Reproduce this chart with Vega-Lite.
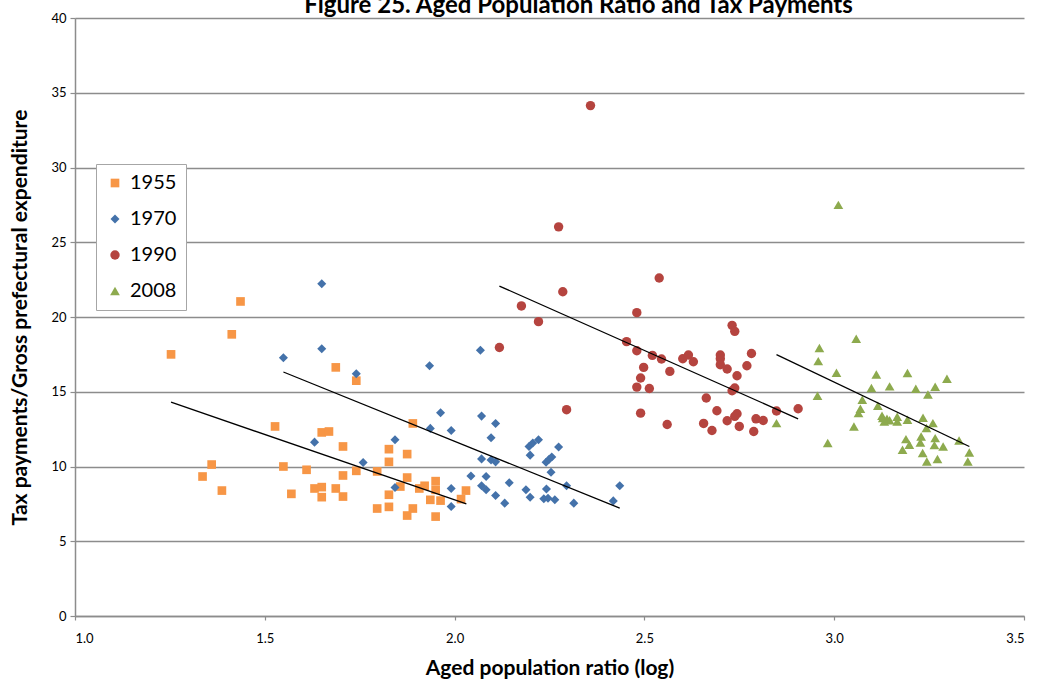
{
  "$schema": "https://vega.github.io/schema/vega-lite/v6.json",
  "width": 949,
  "height": 598,
  "autosize": {"type": "none"},
  "padding": {"left": 75, "top": 18, "right": 15, "bottom": 68},
  "background": "#ffffff",
  "view": {"stroke": null},
  "title": {
    "text": "Figure 25. Aged Population Ratio and Tax Payments",
    "font": "Lato",
    "fontSize": 24,
    "fontWeight": "bold",
    "color": "#000000",
    "anchor": "middle",
    "dx": 29,
    "offset": -6
  },
  "datasets": {
    "points": [
      {"year": "1955", "ratio": 1.253, "tax": 17.5},
      {"year": "1955", "ratio": 1.413, "tax": 18.84},
      {"year": "1955", "ratio": 1.436, "tax": 21.04},
      {"year": "1955", "ratio": 1.527, "tax": 12.68},
      {"year": "1955", "ratio": 1.36, "tax": 10.13},
      {"year": "1955", "ratio": 1.336, "tax": 9.33},
      {"year": "1955", "ratio": 1.387, "tax": 8.39},
      {"year": "1955", "ratio": 1.549, "tax": 10.0},
      {"year": "1955", "ratio": 1.61, "tax": 9.78},
      {"year": "1955", "ratio": 1.57, "tax": 8.17},
      {"year": "1955", "ratio": 1.631, "tax": 8.53},
      {"year": "1955", "ratio": 1.65, "tax": 8.62},
      {"year": "1955", "ratio": 1.65, "tax": 7.95},
      {"year": "1955", "ratio": 1.687, "tax": 8.53},
      {"year": "1955", "ratio": 1.687, "tax": 16.63},
      {"year": "1955", "ratio": 1.65, "tax": 12.28},
      {"year": "1955", "ratio": 1.669, "tax": 12.34},
      {"year": "1955", "ratio": 1.741, "tax": 15.74},
      {"year": "1955", "ratio": 1.706, "tax": 11.34},
      {"year": "1955", "ratio": 1.741, "tax": 9.71},
      {"year": "1955", "ratio": 1.706, "tax": 9.4},
      {"year": "1955", "ratio": 1.796, "tax": 9.67},
      {"year": "1955", "ratio": 1.827, "tax": 11.16},
      {"year": "1955", "ratio": 1.827, "tax": 10.31},
      {"year": "1955", "ratio": 1.875, "tax": 10.83},
      {"year": "1955", "ratio": 1.89, "tax": 12.88},
      {"year": "1955", "ratio": 1.706, "tax": 7.99},
      {"year": "1955", "ratio": 1.796, "tax": 7.19},
      {"year": "1955", "ratio": 1.827, "tax": 7.3},
      {"year": "1955", "ratio": 1.827, "tax": 8.11},
      {"year": "1955", "ratio": 1.857, "tax": 8.66},
      {"year": "1955", "ratio": 1.875, "tax": 9.26},
      {"year": "1955", "ratio": 1.89, "tax": 7.19},
      {"year": "1955", "ratio": 1.875, "tax": 6.72},
      {"year": "1955", "ratio": 1.907, "tax": 8.53},
      {"year": "1955", "ratio": 1.921, "tax": 8.71},
      {"year": "1955", "ratio": 1.95, "tax": 9.02},
      {"year": "1955", "ratio": 1.95, "tax": 8.44},
      {"year": "1955", "ratio": 1.936, "tax": 7.77},
      {"year": "1955", "ratio": 1.963, "tax": 7.72},
      {"year": "1955", "ratio": 1.95, "tax": 6.65},
      {"year": "1955", "ratio": 2.017, "tax": 7.82},
      {"year": "1955", "ratio": 2.03, "tax": 8.39},
      {"year": "1970", "ratio": 1.549, "tax": 17.28},
      {"year": "1970", "ratio": 1.65, "tax": 17.88},
      {"year": "1970", "ratio": 1.65, "tax": 22.23},
      {"year": "1970", "ratio": 1.631, "tax": 11.63},
      {"year": "1970", "ratio": 1.741, "tax": 16.2},
      {"year": "1970", "ratio": 1.759, "tax": 10.27},
      {"year": "1970", "ratio": 1.843, "tax": 11.79},
      {"year": "1970", "ratio": 1.843, "tax": 8.6},
      {"year": "1970", "ratio": 1.934, "tax": 16.74},
      {"year": "1970", "ratio": 1.963, "tax": 13.6},
      {"year": "1970", "ratio": 1.936, "tax": 12.55},
      {"year": "1970", "ratio": 1.991, "tax": 12.41},
      {"year": "1970", "ratio": 2.068, "tax": 17.78},
      {"year": "1970", "ratio": 2.071, "tax": 13.37},
      {"year": "1970", "ratio": 2.108, "tax": 12.88},
      {"year": "1970", "ratio": 2.096, "tax": 11.92},
      {"year": "1970", "ratio": 2.071, "tax": 10.51},
      {"year": "1970", "ratio": 2.096, "tax": 10.43},
      {"year": "1970", "ratio": 2.108, "tax": 10.31},
      {"year": "1970", "ratio": 2.043, "tax": 9.36},
      {"year": "1970", "ratio": 2.083, "tax": 9.33},
      {"year": "1970", "ratio": 1.991, "tax": 8.53},
      {"year": "1970", "ratio": 1.991, "tax": 7.32},
      {"year": "1970", "ratio": 2.071, "tax": 8.71},
      {"year": "1970", "ratio": 2.083, "tax": 8.44},
      {"year": "1970", "ratio": 2.108, "tax": 8.06},
      {"year": "1970", "ratio": 2.132, "tax": 7.55},
      {"year": "1970", "ratio": 2.144, "tax": 8.91},
      {"year": "1970", "ratio": 2.188, "tax": 8.44},
      {"year": "1970", "ratio": 2.199, "tax": 7.95},
      {"year": "1970", "ratio": 2.199, "tax": 10.76},
      {"year": "1970", "ratio": 2.196, "tax": 11.34},
      {"year": "1970", "ratio": 2.206, "tax": 11.57},
      {"year": "1970", "ratio": 2.221, "tax": 11.79},
      {"year": "1970", "ratio": 2.241, "tax": 10.29},
      {"year": "1970", "ratio": 2.249, "tax": 10.49},
      {"year": "1970", "ratio": 2.256, "tax": 10.63},
      {"year": "1970", "ratio": 2.254, "tax": 9.62},
      {"year": "1970", "ratio": 2.274, "tax": 11.3},
      {"year": "1970", "ratio": 2.242, "tax": 8.49},
      {"year": "1970", "ratio": 2.235, "tax": 7.84},
      {"year": "1970", "ratio": 2.246, "tax": 7.88},
      {"year": "1970", "ratio": 2.264, "tax": 7.77},
      {"year": "1970", "ratio": 2.295, "tax": 8.71},
      {"year": "1970", "ratio": 2.314, "tax": 7.55},
      {"year": "1970", "ratio": 2.418, "tax": 7.7},
      {"year": "1970", "ratio": 2.435, "tax": 8.71},
      {"year": "1990", "ratio": 2.358, "tax": 34.14},
      {"year": "1990", "ratio": 2.274, "tax": 26.03},
      {"year": "1990", "ratio": 2.539, "tax": 22.61},
      {"year": "1990", "ratio": 2.285, "tax": 21.69},
      {"year": "1990", "ratio": 2.176, "tax": 20.74},
      {"year": "1990", "ratio": 2.221, "tax": 19.69},
      {"year": "1990", "ratio": 2.118, "tax": 17.96},
      {"year": "1990", "ratio": 2.295, "tax": 13.8},
      {"year": "1990", "ratio": 2.48, "tax": 20.29},
      {"year": "1990", "ratio": 2.453, "tax": 18.35},
      {"year": "1990", "ratio": 2.48, "tax": 17.74},
      {"year": "1990", "ratio": 2.521, "tax": 17.43},
      {"year": "1990", "ratio": 2.545, "tax": 17.19},
      {"year": "1990", "ratio": 2.498, "tax": 16.63},
      {"year": "1990", "ratio": 2.567, "tax": 16.36},
      {"year": "1990", "ratio": 2.49, "tax": 15.92},
      {"year": "1990", "ratio": 2.48, "tax": 15.31},
      {"year": "1990", "ratio": 2.513, "tax": 15.22},
      {"year": "1990", "ratio": 2.49, "tax": 13.57},
      {"year": "1990", "ratio": 2.56, "tax": 12.81},
      {"year": "1990", "ratio": 2.601, "tax": 17.21},
      {"year": "1990", "ratio": 2.616, "tax": 17.46},
      {"year": "1990", "ratio": 2.629, "tax": 17.01},
      {"year": "1990", "ratio": 2.7, "tax": 17.46},
      {"year": "1990", "ratio": 2.7, "tax": 17.21},
      {"year": "1990", "ratio": 2.7, "tax": 16.81},
      {"year": "1990", "ratio": 2.718, "tax": 16.52},
      {"year": "1990", "ratio": 2.731, "tax": 19.44},
      {"year": "1990", "ratio": 2.738, "tax": 19.04},
      {"year": "1990", "ratio": 2.744, "tax": 16.07},
      {"year": "1990", "ratio": 2.77, "tax": 16.74},
      {"year": "1990", "ratio": 2.782, "tax": 17.56},
      {"year": "1990", "ratio": 2.738, "tax": 15.25},
      {"year": "1990", "ratio": 2.731, "tax": 15.07},
      {"year": "1990", "ratio": 2.663, "tax": 14.58},
      {"year": "1990", "ratio": 2.691, "tax": 13.73},
      {"year": "1990", "ratio": 2.744, "tax": 13.53},
      {"year": "1990", "ratio": 2.738, "tax": 13.35},
      {"year": "1990", "ratio": 2.718, "tax": 13.06},
      {"year": "1990", "ratio": 2.656, "tax": 12.88},
      {"year": "1990", "ratio": 2.678, "tax": 12.41},
      {"year": "1990", "ratio": 2.75, "tax": 12.68},
      {"year": "1990", "ratio": 2.788, "tax": 12.34},
      {"year": "1990", "ratio": 2.794, "tax": 13.19},
      {"year": "1990", "ratio": 2.813, "tax": 13.08},
      {"year": "1990", "ratio": 2.848, "tax": 13.71},
      {"year": "1990", "ratio": 2.905, "tax": 13.86},
      {"year": "2008", "ratio": 3.011, "tax": 27.5},
      {"year": "2008", "ratio": 3.058, "tax": 18.55},
      {"year": "2008", "ratio": 2.961, "tax": 17.93},
      {"year": "2008", "ratio": 2.958, "tax": 17.05},
      {"year": "2008", "ratio": 3.006, "tax": 16.27},
      {"year": "2008", "ratio": 3.111, "tax": 16.16},
      {"year": "2008", "ratio": 3.193, "tax": 16.25},
      {"year": "2008", "ratio": 3.297, "tax": 15.87},
      {"year": "2008", "ratio": 3.098, "tax": 15.25},
      {"year": "2008", "ratio": 3.146, "tax": 15.36},
      {"year": "2008", "ratio": 3.215, "tax": 15.2},
      {"year": "2008", "ratio": 3.266, "tax": 15.33},
      {"year": "2008", "ratio": 3.247, "tax": 14.82},
      {"year": "2008", "ratio": 2.956, "tax": 14.73},
      {"year": "2008", "ratio": 3.074, "tax": 14.46},
      {"year": "2008", "ratio": 3.069, "tax": 13.86},
      {"year": "2008", "ratio": 3.064, "tax": 13.57},
      {"year": "2008", "ratio": 3.115, "tax": 14.06},
      {"year": "2008", "ratio": 3.126, "tax": 13.4},
      {"year": "2008", "ratio": 3.139, "tax": 13.2},
      {"year": "2008", "ratio": 3.146, "tax": 13.1},
      {"year": "2008", "ratio": 3.132, "tax": 13.0},
      {"year": "2008", "ratio": 3.128, "tax": 13.25},
      {"year": "2008", "ratio": 3.166, "tax": 13.33},
      {"year": "2008", "ratio": 3.166, "tax": 13.01},
      {"year": "2008", "ratio": 3.193, "tax": 13.13},
      {"year": "2008", "ratio": 3.234, "tax": 13.26},
      {"year": "2008", "ratio": 3.26, "tax": 12.9},
      {"year": "2008", "ratio": 3.243, "tax": 12.57},
      {"year": "2008", "ratio": 3.229, "tax": 12.01},
      {"year": "2008", "ratio": 3.227, "tax": 11.61},
      {"year": "2008", "ratio": 3.266, "tax": 11.9},
      {"year": "2008", "ratio": 3.264, "tax": 11.43},
      {"year": "2008", "ratio": 3.287, "tax": 11.34},
      {"year": "2008", "ratio": 3.189, "tax": 11.83},
      {"year": "2008", "ratio": 3.198, "tax": 11.45},
      {"year": "2008", "ratio": 3.18, "tax": 11.12},
      {"year": "2008", "ratio": 3.233, "tax": 10.9},
      {"year": "2008", "ratio": 3.244, "tax": 10.34},
      {"year": "2008", "ratio": 3.272, "tax": 10.5},
      {"year": "2008", "ratio": 3.329, "tax": 11.74},
      {"year": "2008", "ratio": 3.356, "tax": 10.94},
      {"year": "2008", "ratio": 3.352, "tax": 10.34},
      {"year": "2008", "ratio": 3.052, "tax": 12.68},
      {"year": "2008", "ratio": 2.983, "tax": 11.57},
      {"year": "2008", "ratio": 2.848, "tax": 12.9}
    ],
    "trend": [
      {"group": "1955", "ratio": 1.253, "tax": 14.3},
      {"group": "1955", "ratio": 2.031, "tax": 7.5},
      {"group": "1970", "ratio": 1.549, "tax": 16.32},
      {"group": "1970", "ratio": 2.435, "tax": 7.22},
      {"group": "1990", "ratio": 2.118, "tax": 22.07},
      {"group": "1990", "ratio": 2.905, "tax": 13.19},
      {"group": "2008", "ratio": 2.848, "tax": 17.48},
      {"group": "2008", "ratio": 3.356, "tax": 11.34}
    ]
  },
  "layer": [
    {
      "data": {"name": "points"},
      "mark": {"type": "point", "filled": true, "opacity": 1},
      "encoding": {
        "x": {
          "field": "ratio",
          "type": "quantitative",
          "scale": {"domain": [1, 3.5], "nice": false, "zero": false},
          "axis": {
            "title": "Aged population ratio (log)",
            "values": [1, 1.5, 2, 2.5, 3, 3.5],
            "format": ".1f",
            "grid": false,
            "tickSize": 4,
            "labelPadding": 12,
            "titlePadding": 12,
            "titleFontSize": 21
          }
        },
        "y": {
          "field": "tax",
          "type": "quantitative",
          "scale": {"domain": [0, 40], "nice": false},
          "axis": {
            "title": "Tax payments/Gross prefectural expenditure",
            "values": [0, 5, 10, 15, 20, 25, 30, 35, 40],
            "grid": true,
            "tickSize": 5,
            "titlePadding": 20,
            "titleFontSize": 21
          }
        },
        "size": {
          "field": "year",
          "type": "nominal",
          "scale": {
            "domain": ["1955", "1970", "1990", "2008"],
            "range": [75, 95, 100, 85]
          },
          "legend": null
        },
        "color": {
          "field": "year",
          "type": "nominal",
          "scale": {
            "domain": ["1955", "1970", "1990", "2008"],
            "range": ["#F79646", "#4472AA", "#B5443F", "#8DAA4E"]
          },
          "legend": {
            "title": null,
            "orient": "none",
            "legendX": 21,
            "legendY": 146,
            "labelFontSize": 20,
            "labelFont": "Lato",
            "labelColor": "#000000",
            "labelOffset": 5,
            "symbolSize": 45,
            "rowPadding": 16,
            "padding": 9,
            "strokeColor": "#a6a6a6",
            "fillColor": "#ffffff"
          }
        },
        "shape": {
          "field": "year",
          "type": "nominal",
          "scale": {
            "domain": ["1955", "1970", "1990", "2008"],
            "range": ["square", "diamond", "circle", "triangle-up"]
          },
          "legend": {
            "title": null,
            "orient": "none",
            "legendX": 21,
            "legendY": 146,
            "labelFontSize": 20,
            "labelFont": "Lato",
            "labelColor": "#000000",
            "labelOffset": 5,
            "symbolSize": 45,
            "rowPadding": 16,
            "padding": 9,
            "strokeColor": "#a6a6a6",
            "fillColor": "#ffffff"
          }
        }
      }
    },
    {
      "data": {"name": "trend"},
      "mark": {"type": "line", "color": "#000000", "strokeWidth": 1.3},
      "encoding": {
        "x": {"field": "ratio", "type": "quantitative"},
        "y": {"field": "tax", "type": "quantitative"},
        "detail": {"field": "group", "type": "nominal"}
      }
    }
  ],
  "config": {
    "font": "Lato",
    "axis": {
      "labelFont": "Lato",
      "labelFontSize": 13,
      "labelColor": "#000000",
      "titleFont": "Lato",
      "titleFontWeight": "bold",
      "titleColor": "#000000",
      "domainColor": "#8c8c8c",
      "domainWidth": 1.5,
      "tickColor": "#8c8c8c",
      "tickWidth": 1.2,
      "gridColor": "#8c8c8c",
      "gridWidth": 1.3,
      "labelPadding": 4
    }
  }
}
